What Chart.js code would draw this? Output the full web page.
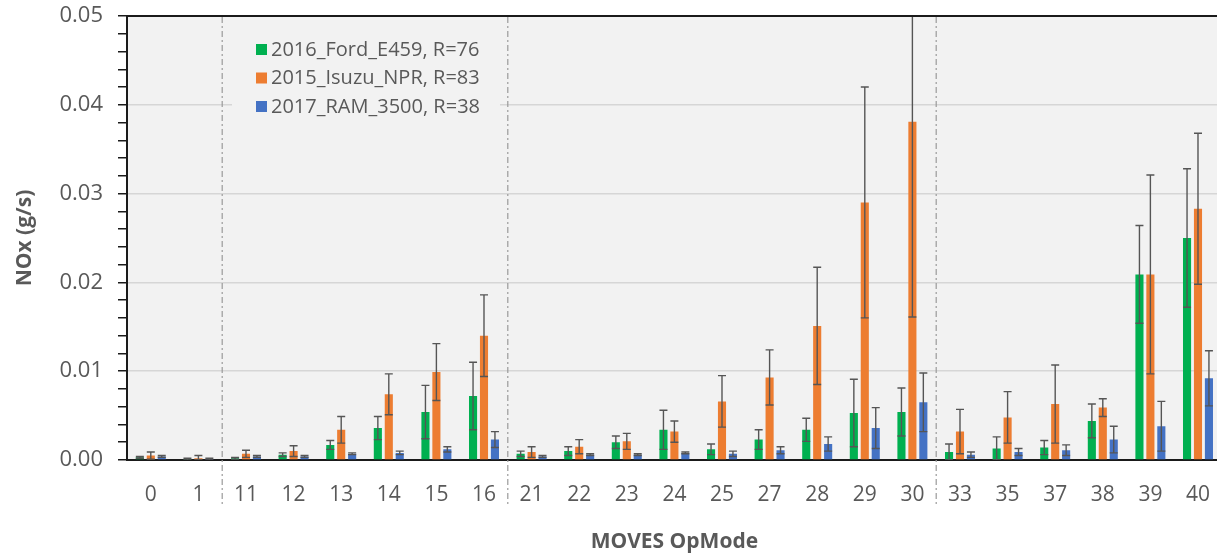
<!DOCTYPE html>
<html>
<head>
<meta charset="utf-8">
<script src="https://cdn.jsdelivr.net/npm/chart.js@4.4.1/dist/chart.umd.min.js"></script>
<style>
  html, body { margin: 0; padding: 0; background: #fff; overflow: hidden; }
  #wrap { width: 1224px; height: 558px; }
</style>
</head>
<body>
<div id="wrap"><canvas id="noxChart" width="1224" height="558"></canvas></div>
<script>
// OpMode categories
var opModes = ['0', '1', '11', '12', '13', '14', '15', '16', '21', '22', '23', '24', '25', '27', '28', '29', '30', '33', '35', '37', '38', '39', '40'];

var seriesNames = ['2016_Ford_E459, R=76', '2015_Isuzu_NPR, R=83', '2017_RAM_3500, R=38'];

// mean NOx (g/s)
var fordMean  = [0.0003, 0.0001, 0.0002, 0.0006, 0.0017, 0.0036, 0.0054, 0.0072, 0.0007, 0.0010, 0.0020, 0.0034, 0.0012, 0.0023, 0.0034, 0.0053, 0.0054, 0.0009, 0.0013, 0.0014, 0.0044, 0.0209, 0.0250];
var isuzuMean = [0.0005, 0.0002, 0.0007, 0.0010, 0.0034, 0.0074, 0.0099, 0.0140, 0.0009, 0.0015, 0.0021, 0.0032, 0.0066, 0.0093, 0.0151, 0.0290, 0.0381, 0.0032, 0.0048, 0.0063, 0.0059, 0.0209, 0.0283];
var ramMean   = [0.0004, 0.0001, 0.0004, 0.0004, 0.0007, 0.0008, 0.0012, 0.0023, 0.0004, 0.0006, 0.0006, 0.0008, 0.0007, 0.0011, 0.0018, 0.0036, 0.0065, 0.0006, 0.0009, 0.0011, 0.0023, 0.0038, 0.0092];

// error bar half-widths (g/s)
var fordErr  = [0.0001, 0.0001, 0.0001, 0.0002, 0.0005, 0.0013, 0.0030, 0.0038, 0.0003, 0.0005, 0.0007, 0.0022, 0.0006, 0.0011, 0.0013, 0.0038, 0.0027, 0.0009, 0.0013, 0.0008, 0.0019, 0.0055, 0.0078];
var isuzuErr = [0.0004, 0.0003, 0.0004, 0.0006, 0.0015, 0.0023, 0.0032, 0.0046, 0.0006, 0.0008, 0.0009, 0.0012, 0.0029, 0.0031, 0.0066, 0.0130, 0.0220, 0.0025, 0.0029, 0.0044, 0.0010, 0.0112, 0.0085];
var ramErr   = [0.0001, 0.0001, 0.0001, 0.0001, 0.0001, 0.0002, 0.0003, 0.0009, 0.0001, 0.0001, 0.0001, 0.0001, 0.0003, 0.0004, 0.0008, 0.0023, 0.0033, 0.0003, 0.0004, 0.0006, 0.0015, 0.0028, 0.0031];

// dash-dot separators sit after these category indexes
var groupBreaks = [1, 7, 16];

var colors = ['#00b050', '#ed7d31', '#4472c4'];
var errors = [fordErr, isuzuErr, ramErr];
var textGray = '#595959';
var fontFam = "'Open Sans', sans-serif";

function isMajor(v) {
    return Math.round(v * 1000) % 10 === 0;
}

var plotBg = {
    id: 'plotBg',
    beforeDraw: function(chart) {
        var a = chart.chartArea, ctx = chart.ctx;
        ctx.save();
        ctx.fillStyle = '#f2f2f2';
        ctx.fillRect(a.left, a.top, a.right - a.left, a.bottom - a.top);
        ctx.restore();
    }
};

var errorBars = {
    id: 'errorBars',
    afterDatasetsDraw: function(chart) {
        var ctx = chart.ctx, a = chart.chartArea, y = chart.scales.y;
        ctx.save();
        ctx.beginPath();
        ctx.rect(a.left, a.top, a.right - a.left, a.bottom - a.top);
        ctx.clip();
        ctx.strokeStyle = '#555555';
        ctx.lineWidth = 1.4;
        chart.data.datasets.forEach(function(ds, di) {
            var meta = chart.getDatasetMeta(di);
            meta.data.forEach(function(bar, i) {
                var v = ds.data[i], e = errors[di][i];
                var yHi = y.getPixelForValue(v + e), yLo = y.getPixelForValue(Math.max(v - e, 0));
                var cx = bar.x, cap = 4;
                ctx.beginPath();
                ctx.moveTo(cx, yHi); ctx.lineTo(cx, yLo);
                ctx.moveTo(cx - cap, yHi); ctx.lineTo(cx + cap, yHi);
                ctx.moveTo(cx - cap, yLo); ctx.lineTo(cx + cap, yLo);
                ctx.stroke();
            });
        });
        ctx.restore();
    }
};

var frameAndLegend = {
    id: 'frameAndLegend',
    afterDraw: function(chart) {
        var ctx = chart.ctx, a = chart.chartArea, x = chart.scales.x;
        ctx.save();
        // top frame line
        ctx.strokeStyle = '#1a1a1a';
        ctx.lineWidth = 2;
        ctx.beginPath();
        ctx.moveTo(a.left, a.top);
        ctx.lineTo(a.right, a.top);
        ctx.stroke();
        // legend box
        ctx.fillStyle = '#f2f2f2';
        ctx.fillRect(232, 30, 268, 94);
        ctx.font = '20px ' + fontFam;
        ctx.textBaseline = 'middle';
        chart.data.datasets.forEach(function(ds, i) {
            var ly = 49 + i * 28.5;
            ctx.fillStyle = ds.backgroundColor;
            ctx.fillRect(256, ly - 5, 11, 11);
            ctx.fillStyle = textGray;
            ctx.fillText(ds.label, 271, ly + 1);
        });
        // dash-dot group separators
        ctx.strokeStyle = '#9a9a9a';
        ctx.lineWidth = 1.2;
        ctx.setLineDash([6, 3, 2, 3]);
        groupBreaks.forEach(function(i) {
            var px = (x.getPixelForValue(i) + x.getPixelForValue(i + 1)) / 2;
            ctx.beginPath();
            ctx.moveTo(px, a.top + 1);
            ctx.lineTo(px, a.bottom + 45);
            ctx.stroke();
        });
        ctx.restore();
    }
};

var datasets = [fordMean, isuzuMean, ramMean].map(function(vals, i) {
    return {
        label: seriesNames[i],
        data: vals,
        backgroundColor: colors[i],
        borderWidth: 0,
        categoryPercentage: 0.69,
        barPercentage: 0.74
    };
});

var ctx = document.getElementById('noxChart').getContext('2d');
var noxChart = new Chart(ctx, {
    type: 'bar',
    data: { labels: opModes, datasets: datasets },
    options: {
        responsive: false,
        animation: false,
        layout: { padding: { top: 16, right: 0, bottom: 0, left: 0 } },
        plugins: {
            legend: { display: false },
            tooltip: { enabled: false }
        },
        scales: {
            x: {
                grid: { display: false },
                border: { display: true, color: '#1a1a1a', width: 2 },
                ticks: {
                    color: textGray,
                    font: { family: fontFam, size: 21 },
                    padding: 14,
                    maxRotation: 0,
                    autoSkip: false
                },
                title: {
                    display: true,
                    text: 'MOVES OpMode',
                    color: textGray,
                    font: { family: fontFam, size: 21, weight: 'bold' },
                    padding: { top: 0, bottom: 3 }
                },
                afterFit: function(scale) { scale.height = 98; }
            },
            y: {
                min: 0,
                max: 0.05,
                grid: {
                    color: function(c) { return c.tick && isMajor(c.tick.value) ? '#d6d6d6' : 'rgba(0,0,0,0)'; },
                    lineWidth: 1.5,
                    tickColor: '#1a1a1a',
                    tickLength: 9,
                    drawTicks: true
                },
                border: { display: true, color: '#1a1a1a', width: 2 },
                ticks: {
                    stepSize: 0.002,
                    autoSkip: false,
                    color: textGray,
                    font: { family: fontFam, size: 22 },
                    padding: 15,
                    callback: function(v) { return isMajor(v) ? v.toFixed(2) : ''; }
                },
                title: {
                    display: true,
                    text: 'NOx (g/s)',
                    color: textGray,
                    font: { family: fontFam, size: 21, weight: 'bold' },
                    padding: { top: 12, bottom: 0 }
                },
                afterFit: function(scale) {
                    scale.width = 127;
                    scale.paddingTop = 0;
                    scale.paddingBottom = 0;
                }
            }
        }
    },
    plugins: [plotBg, errorBars, frameAndLegend]
});
</script>
</body>
</html>
